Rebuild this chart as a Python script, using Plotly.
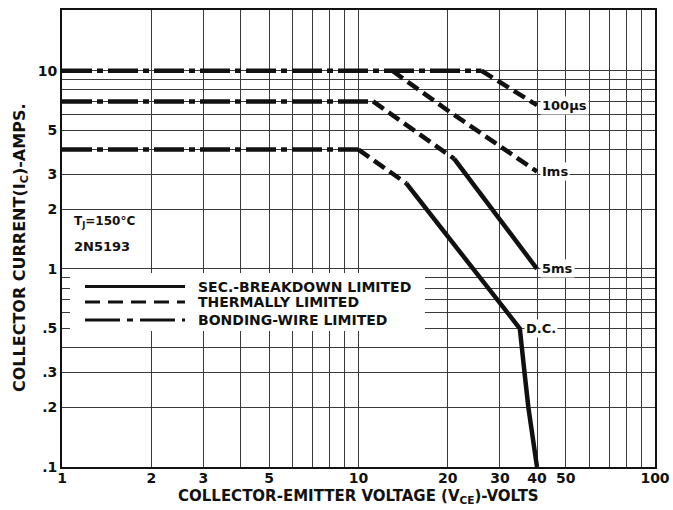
import math
import plotly.graph_objects as go

# ---------------- data ----------------
x_tickvals = [1, 2, 3, 4, 5, 6, 7, 8, 9, 10, 20, 30, 40, 50, 60, 70, 80, 90, 100]
x_ticktext = ["1", "2", "3", "", "5", "", "", "", "", "10", "20", "30", "40", "50", "", "", "", "", "100"]
y_tickvals = [0.1, 0.2, 0.3, 0.4, 0.5, 0.6, 0.7, 0.8, 0.9, 1, 2, 3, 4, 5, 6, 7, 8, 9, 10]
y_ticktext = [".1", ".2", ".3", "", ".5", "", "", "", "", "1", "2", "3", "", "5", "", "", "", "", "10"]

# bonding-wire limited (dash-dot)
bond_10a_v = [1, 26]
bond_10a_i = [10, 10]
bond_7a_v = [1, 11.2]
bond_7a_i = [7, 7]
bond_4a_v = [1, 10]
bond_4a_i = [4, 4]

# thermally limited (dashed)
therm_100us_v = [26, 40]
therm_100us_i = [10, 6.7]
therm_1ms_v = [13, 20, 40]
therm_1ms_i = [10, 6.3, 3.1]
therm_5ms_v = [11.2, 21]
therm_5ms_i = [7, 3.6]
therm_dc_v = [10, 12, 14.5]
therm_dc_i = [4, 3.3, 2.7]

# secondary-breakdown limited (solid)
sb_5ms_v = [21, 28.5, 40]
sb_5ms_i = [3.6, 1.95, 1.0]
sb_dc_v = [14.5, 29.2, 35, 36.3, 37.4, 40]
sb_dc_i = [2.7, 0.7, 0.5, 0.3, 0.2, 0.1]

curve_labels = ["100\u00b5s", "Ims", "5ms", "D.C."]
curve_label_v = [40, 40, 40, 35.3]
curve_label_i = [6.7, 3.1, 1.0, 0.5]

legend_labels = ["SEC.-BREAKDOWN LIMITED", "THERMALLY LIMITED", "BONDING-WIRE LIMITED"]

x_title = "COLLECTOR-EMITTER VOLTAGE (V<sub>CE</sub>)-VOLTS"
y_title = "COLLECTOR CURRENT(I<sub>C</sub>)-AMPS."

FONT = "DejaVu Sans"
INK = "#111111"
DASHDOT = "30px,5px,6px,5px"
DASHED = "13px,6px"

fig = go.Figure()

def add_line(v, i, dash):
    fig.add_trace(go.Scatter(x=v, y=i, mode="lines", showlegend=False, hoverinfo="skip",
                             line=dict(color=INK, width=4.5, dash=dash)))

for v, i in [(bond_10a_v, bond_10a_i), (bond_7a_v, bond_7a_i), (bond_4a_v, bond_4a_i)]:
    add_line(v, i, DASHDOT)
for v, i in [(therm_100us_v, therm_100us_i), (therm_1ms_v, therm_1ms_i),
             (therm_5ms_v, therm_5ms_i), (therm_dc_v, therm_dc_i)]:
    add_line(v, i, DASHED)
for v, i in [(sb_5ms_v, sb_5ms_i), (sb_dc_v, sb_dc_i)]:
    add_line(v, i, "solid")

# geometry helpers (layout positions as fractions of the plot area)
FW, FH = 673, 510
L, R, T, B = 62, 655, 10, 467
W, H = R - L, B - T
def dx(px):
    return (px - L) / W
def dy(py):
    return (B - py) / H

shapes = []
# white legend box covering the grid
shapes.append(dict(type="rect", xref="x domain", yref="y domain",
                   x0=dx(70), x1=dx(425), y0=dy(331), y1=dy(273),
                   fillcolor="white", line=dict(width=0), layer="above"))
legend_dash = ["solid", "15px,8px", "35px,7px,6px,7px"]
legend_y = [286.5, 302, 320]
for ly, ld in zip(legend_y, legend_dash):
    shapes.append(dict(type="line", xref="x domain", yref="y domain",
                       x0=dx(85), x1=dx(185), y0=dy(ly), y1=dy(ly),
                       line=dict(color=INK, width=3, dash=ld), layer="above"))

annotations = []
for txt, ly in zip(legend_labels, legend_y):
    annotations.append(dict(text=txt, xref="x domain", yref="y domain", x=dx(196), y=dy(ly),
                            xanchor="left", yanchor="middle", showarrow=False,
                            font=dict(family=FONT, size=14, color=INK, weight="bold")))
for txt, v, i in zip(curve_labels, curve_label_v, curve_label_i):
    annotations.append(dict(text=txt, x=math.log10(v), y=math.log10(i), xref="x", yref="y",
                            xanchor="left", yanchor="middle", xshift=3, showarrow=False,
                            bgcolor="white", borderpad=1,
                            font=dict(family=FONT, size=13, color=INK, weight="bold")))
annotations.append(dict(text="T<sub>J</sub>=150\u00b0C", xref="x domain", yref="y domain",
                        x=dx(72), y=dy(222), xanchor="left", yanchor="middle", showarrow=False,
                        font=dict(family=FONT, size=12, color=INK, weight="bold")))
annotations.append(dict(text="2N5193", xref="x domain", yref="y domain",
                        x=dx(72), y=dy(247), xanchor="left", yanchor="middle", showarrow=False,
                        font=dict(family=FONT, size=13, color=INK, weight="bold")))
# axis titles
annotations.append(dict(text=x_title, xref="paper", yref="paper",
                        x=dx(358), y=dy(497), xanchor="center", yanchor="middle",
                        showarrow=False, font=dict(family=FONT, size=15, color=INK, weight="bold")))
annotations.append(dict(text=y_title, xref="paper", yref="paper", textangle=-90,
                        x=dx(20), y=dy(248), xanchor="center", yanchor="middle",
                        showarrow=False, font=dict(family=FONT, size=16, color=INK, weight="bold")))

fig.update_layout(
    width=FW, height=FH,
    margin=dict(l=L, r=FW - R, t=T, b=FH - B, autoexpand=False),
    paper_bgcolor="white", plot_bgcolor="white",
    font=dict(family=FONT, size=14, color=INK),
    shapes=shapes, annotations=annotations,
    xaxis=dict(type="log", range=[0, 2], tickmode="array", tickvals=x_tickvals, ticktext=x_ticktext,
               showgrid=True, gridcolor="#3a3a3a", gridwidth=1, ticks="", ticklabelstandoff=-3,
               showline=True, mirror=True, linecolor=INK, linewidth=2,
               tickfont=dict(family=FONT, size=14, color=INK, weight="bold")),
    yaxis=dict(type="log", range=[-1, 1.3066], tickmode="array", tickvals=y_tickvals, ticktext=y_ticktext,
               showgrid=True, gridcolor="#3a3a3a", gridwidth=1, ticks="",
               showline=True, mirror=True, linecolor=INK, linewidth=2,
               tickfont=dict(family=FONT, size=14, color=INK, weight="bold")),
)

fig.write_html("out.html", config={"displayModeBar": False},
               post_script="document.body.style.margin='0';")
